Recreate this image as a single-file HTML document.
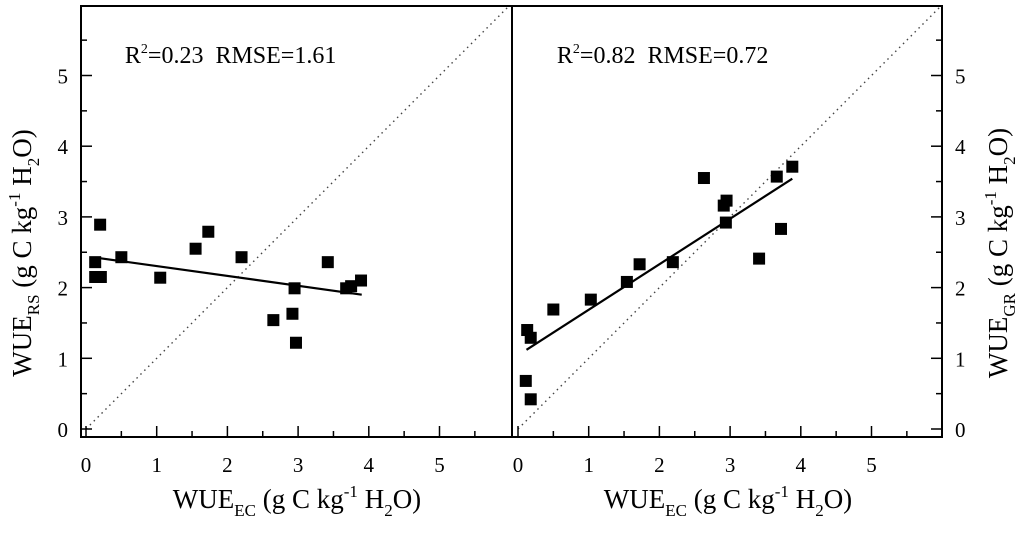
<!DOCTYPE html>
<html><head><meta charset="utf-8"><style>
body{margin:0;background:#fff;}
svg{display:block;font-family:"Liberation Serif",serif;}
</style></head><body>
<svg id="chart" width="1024" height="535" viewBox="0 0 1024 535"></svg>
<script>
const xTicks=[0,1,2,3,4,5];
const yTicks=[0,1,2,3,4,5];
const leftX=[0.13,0.2,0.13,0.21,0.5,1.05,1.55,1.73,2.2,2.65,2.92,2.95,2.97,3.42,3.68,3.75,3.89];
const leftY=[2.36,2.89,2.15,2.15,2.43,2.14,2.55,2.79,2.43,1.54,1.63,1.99,1.22,2.36,1.99,2.02,2.1];
const leftFitX=[0.17,3.9];
const leftFitY=[2.42,1.9];
const rightX=[0.13,0.18,0.11,0.18,0.5,1.03,1.54,1.72,2.19,2.63,2.91,2.95,2.94,3.41,3.66,3.72,3.88];
const rightY=[1.4,1.29,0.68,0.42,1.69,1.83,2.08,2.33,2.36,3.55,3.16,3.23,2.92,2.41,3.57,2.83,3.71];
const rightFitX=[0.12,3.88];
const rightFitY=[1.12,3.54];
const stats=[["0.23","1.61"],["0.82","0.72"]];

const NS="http://www.w3.org/2000/svg";
const svg=document.getElementById('chart');
function mk(tag,attrs,parent){const e=document.createElementNS(NS,tag);for(const k in attrs)e.setAttribute(k,attrs[k]);(parent||svg).appendChild(e);return e;}
const U=70.7, Y0=429, TOP=6, BOT=437;
const yS=v=>Y0-v*U;

function panel(x0,left,right,xs,ys,fx,fy,stat,name){
  const xS=v=>x0+v*U;
  const g=mk('g',{});
  
  
  const cid='clip'+name;
  const cp=mk('clipPath',{id:cid},g);mk('rect',{x:left,y:TOP,width:right-left,height:BOT-TOP},cp);
  const diag=mk('line',{x1:xS(0),y1:yS(0),x2:xS(6),y2:yS(6),stroke:'#444','stroke-width':1.4,'stroke-dasharray':'1.5 4','clip-path':'url(#'+cid+')'},g);
  
  
  for(let i=0;i<=11;i++){const v=i*0.5;const len=i%2?6:11;
    mk('line',{x1:xS(v),y1:BOT,x2:xS(v),y2:BOT-len,stroke:'#000','stroke-width':1.5},g);}
  xTicks.forEach(t=>{const tx=mk('text',{x:xS(t),y:472,'font-size':21,'text-anchor':'middle'},g);tx.textContent=t;
    
    });
  const fl=mk('line',{x1:xS(fx[0]),y1:yS(fy[0]),x2:xS(fx[1]),y2:yS(fy[1]),stroke:'#000','stroke-width':2.2},g);
  
  
  xs.forEach((v,i)=>{const r=mk('rect',{x:xS(v)-6,y:yS(ys[i])-6,width:12,height:12,fill:'#000'},g);
    
    });
  const st=mk('text',{x:xS(0.55),y:63,'font-size':24},g);
  st.setAttribute('xml:space','preserve');
  st.style.whiteSpace='pre';
  
  
  st.innerHTML='R<tspan dy="-10" font-size="14">2</tspan><tspan dy="10">=</tspan>'+stat[0]+'  RMSE='+stat[1];
}
panel(86,81,512,leftX,leftY,leftFitX,leftFitY,stats[0],'left-panel');
panel(518,512,942,rightX,rightY,rightFitX,rightFitY,stats[1],'right-panel');
const fr=mk('rect',{x:81,y:TOP,width:861,height:BOT-TOP,fill:'none',stroke:'#000','stroke-width':2});


const dv=mk('line',{x1:512,y1:TOP,x2:512,y2:BOT,stroke:'#000','stroke-width':2});


for(let i=0;i<=11;i++){const v=i*0.5;const len=i%2?6:11;
  mk('line',{x1:81,y1:yS(v),x2:81+len,y2:yS(v),stroke:'#000','stroke-width':1.5});
  mk('line',{x1:942,y1:yS(v),x2:942-len,y2:yS(v),stroke:'#000','stroke-width':1.5});}
yTicks.forEach(t=>{
  const a=mk('text',{x:68,y:yS(t)+8,'font-size':21,'text-anchor':'end'});a.textContent=t;
  
  
  const b=mk('text',{x:955,y:yS(t)+8,'font-size':21});b.textContent=t;
  
  
});
function label(sub){
  return 'WUE<tspan dy="8" font-size="17">'+sub+'</tspan><tspan dy="-8"> (g C kg</tspan><tspan dy="-11" font-size="17">-1</tspan><tspan dy="11"> H</tspan><tspan dy="8" font-size="17">2</tspan><tspan dy="-8">O)</tspan>';
}
function xTitle(cx,name){
  const t=mk('text',{x:cx,y:508,'font-size':27,'text-anchor':'middle'});
  
  
  t.innerHTML=label('EC');
}
xTitle(297,'left-x-axis-title');xTitle(728,'right-x-axis-title');
function yTitle(cx,sub,name){
  const t=mk('text',{x:0,y:0,'font-size':27,'text-anchor':'middle',transform:'translate('+cx+',253) rotate(-90)'});
  
  
  t.innerHTML=label(sub);
}
yTitle(31,'RS','left-y-axis-title');yTitle(1007,'GR','right-y-axis-title');
</script>
</body></html>
